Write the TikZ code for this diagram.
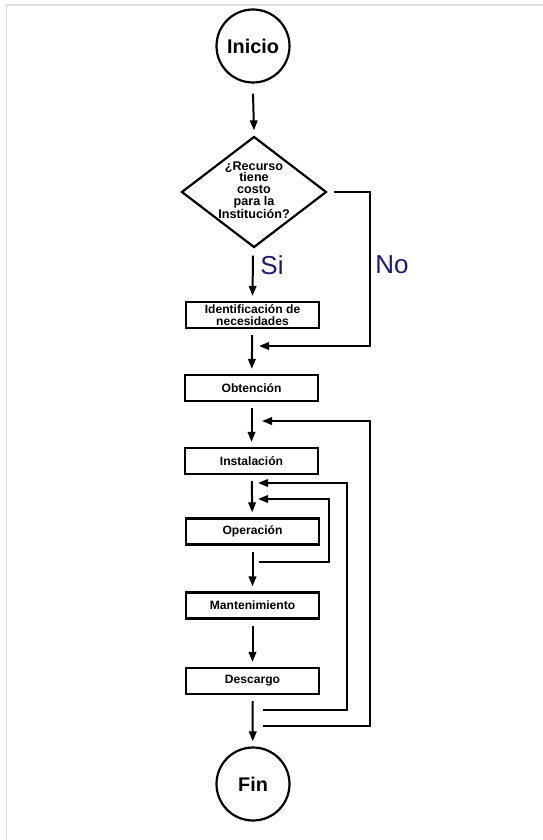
\documentclass[tikz,border=0pt]{standalone}
\usepackage{fontspec}
\setmainfont{Liberation Sans}
\usetikzlibrary{shapes.geometric,arrows.meta}
\definecolor{navy}{HTML}{1C1C70}
\definecolor{framegray}{HTML}{DEDEDE}
\begin{document}
\begin{tikzpicture}[x=1pt,y=-1pt,
  box/.style={draw,line width=2.2pt,minimum width=133pt,minimum height=26pt,inner sep=0pt,font=\bfseries\fontsize{12.1}{12}\selectfont,align=center},
  term/.style={draw,circle,line width=2.2pt,minimum size=73pt,inner sep=0pt,font=\bfseries\fontsize{19.8}{22}\selectfont},
  decision/.style={draw,diamond,line width=2.2pt,minimum width=145pt,minimum height=111pt,inner sep=0pt},
  dectext/.style={font=\bfseries\fontsize{12.6}{11.75}\selectfont,align=center,inner sep=0pt},
  arr/.style={line width=2pt,-{Triangle[length=10pt,width=7.5pt]}},
  flow/.style={arr,shorten <=6pt,shorten >=5pt},
  lbl/.style={text=navy,font=\fontsize{26}{30}\selectfont,inner sep=0pt}
]
\useasboundingbox (0,0) rectangle (543,840);
\draw[framegray,line width=1.5pt] (6.5,840) -- (6.5,5) -- (543,5);

\node[term] (ini) at (253,46) {Inicio};
\node[decision,label={[dectext,yshift=2pt]center:{¿Recurso\\tiene\\costo\\para la\\Institución?}}] (dec) at (254,192) {};
\node[box] (idn) at (252.5,315) {Identificación de\\necesidades};
\node[box] (obt) at (251.5,388) {Obtención};
\node[box] (ins) at (251.5,461) {Instalación};
\node[box] (ope) at (252.5,531.5) {Operación};
\node[box] (man) at (252.5,605.5) {Mantenimiento};
\node[box] (des) at (252.5,681) {Descargo};
\node[term] (fin) at (253,784) {Fin};

\node[lbl] (si) at (272,265) {Si};
\node[lbl] (no) at (392,265) {No};

% main flow
\draw[arr] ([yshift=-10pt]ini.south) -- ([yshift=5pt]dec.north);
\draw[arr] ([xshift=-1pt,yshift=-7pt]dec.south) -- ([yshift=5pt]idn.north);
\draw[flow] (idn) -- (obt);
\draw[flow] (obt) -- (ins);
\draw[flow] (ins) -- (ope);
\draw[flow] (ope) -- (man);
\draw[flow] (man) -- (des);
\draw[flow] (des) -- (fin);

% No branch
\coordinate (noin) at (259,346);
\draw[arr] ([xshift=6pt]dec.east) -- (370,192) -- (370,346) -- (noin);

% return loops
\coordinate (l1s) at (263,726);
\coordinate (l1e) at (262,421);
\coordinate (l2s) at (263,710);
\coordinate (l2e) at (258,483);
\coordinate (l3s) at (259,562);
\coordinate (l3e) at (258,499);
\draw[arr] (l1s) -- (370,726) -- (370,421) -- (l1e);
\draw[arr] (l2s) -- (347,710) -- (347,483) -- (l2e);
\draw[arr] (l3s) -- (329,562) -- (329,499) -- (l3e);
\end{tikzpicture}
\end{document}
